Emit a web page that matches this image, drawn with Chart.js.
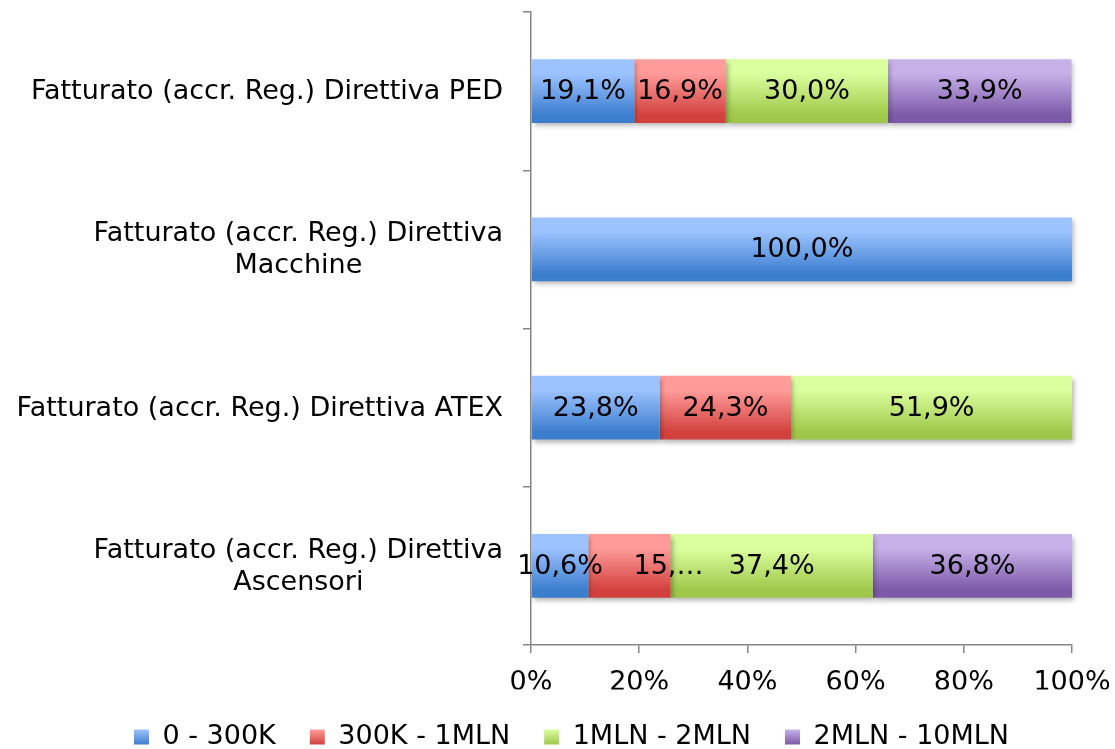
<!DOCTYPE html>
<html><head><meta charset="utf-8">
<script src="https://cdn.jsdelivr.net/npm/chart.js@4.4.0/dist/chart.umd.min.js"></script>
<style>html,body{margin:0;padding:0;background:#fff}#wrap{width:1115px;height:749px;position:relative}</style>
</head><body><div id="wrap"><canvas id="c" width="1115" height="749"></canvas></div>
<script>
// ---- data ----
const categories = [
  ['Fatturato (accr. Reg.) Direttiva PED'],
  ['Fatturato (accr. Reg.) Direttiva', 'Macchine'],
  ['Fatturato (accr. Reg.) Direttiva ATEX'],
  ['Fatturato (accr. Reg.) Direttiva', 'Ascensori']
];
const seriesNames = ['0 - 300K', '300K - 1MLN', '1MLN - 2MLN', '2MLN - 10MLN'];
const s0_300K     = [19.1, 100.0, 23.8, 10.6];
const s300K_1MLN  = [16.9, 0, 24.3, 15.2];
const s1MLN_2MLN  = [30.0, 0, 51.9, 37.4];
const s2MLN_10MLN = [33.9, 0, 0, 36.8];
const xTickLabels = ['0%', '20%', '40%', '60%', '80%', '100%'];
const truncatedLabels = [{series: 1, index: 3, text: '15,…'}];

// ---- style ----
const FONT = 'DejaVu Sans';
const FS = 27;
const BAR_PCT = 0.404;
const LEGEND_PAD = 34;
const palette = [
  {top: '#9DC3FF', bottom: '#3C7ECE', mid: '#6A9FE6'},
  {top: '#FF9C9A', bottom: '#D2413E', mid: '#E86D6A'},
  {top: '#DBFF9F', bottom: '#9FC84A', mid: '#BDE475'},
  {top: '#C7B1E9', bottom: '#7D59A8', mid: '#A285C9'}
];
const AXIS_COLOR = '#868686';

function barFill(p) {
  return (ctx) => {
    const chart = ctx.chart;
    const ys = chart.scales && chart.scales.y;
    if (ctx.type === 'data' && ys && ys.top !== undefined) {
      const yc = ys.getPixelForValue(ctx.dataIndex);
      const cat = (ys.bottom - ys.top) / chart.data.labels.length;
      const h = cat * BAR_PCT;
      const g = chart.ctx.createLinearGradient(0, yc - h / 2, 0, yc + h / 2);
      g.addColorStop(0, p.top); g.addColorStop(0.22, p.top); g.addColorStop(0.88, p.bottom); g.addColorStop(1, p.bottom);
      return g;
    }
    return p.mid;
  };
}

function legendFill(chart, i) {
  const p = palette[i];
  const lg = chart.legend;
  if (lg && lg.top !== undefined && !isNaN(lg.top)) {
    const cy = lg.top + LEGEND_PAD + FS / 2;
    const g = chart.ctx.createLinearGradient(0, cy - 7.5, 0, cy + 7.5);
    g.addColorStop(0, p.top); g.addColorStop(1, p.bottom);
    return g;
  }
  return p.mid;
}

const seriesValues = [s0_300K, s300K_1MLN, s1MLN_2MLN, s2MLN_10MLN];

const shadowPlugin = {
  id: 'shadow',
  beforeDatasetsDraw(chart) {
    const c = chart.ctx; c.save();
    c.shadowColor = 'rgba(0,0,0,0.30)'; c.shadowBlur = 5; c.shadowOffsetX = 2; c.shadowOffsetY = 3;
  },
  afterDatasetsDraw(chart) { chart.ctx.restore(); }
};

const dataLabelPlugin = {
  id: 'dataLabels',
  afterDatasetsDraw(chart) {
    const c = chart.ctx;
    c.save();
    c.font = FS + 'px "' + FONT + '"';
    c.fillStyle = '#000'; c.textBaseline = 'middle';
    chart.data.datasets.forEach((ds, di) => {
      const meta = chart.getDatasetMeta(di);
      meta.data.forEach((el, i) => {
        const v = ds.data[i];
        if (!v) return;
        const {x, base, y} = el.getProps(['x', 'base', 'y'], true);
        let t = v.toFixed(1).replace('.', ',') + '%';
        const tr = truncatedLabels.find(o => o.series === di && o.index === i);
        c.textAlign = 'center';
        if (tr) { t = tr.text; c.textAlign = 'left'; }
        c.fillText(t, (x + base) / 2 + (tr ? 4 : 0), y + 1);
      });
    });
    c.restore();
  }
};

const yLabelPlugin = {
  id: 'yLabels',
  afterDraw(chart) {
    const ys = chart.scales.y, c = chart.ctx;
    c.save();
    c.font = FS + 'px "' + FONT + '"';
    c.fillStyle = '#000'; c.textAlign = 'center'; c.textBaseline = 'middle';
    const right = chart.chartArea.left - 28;
    const lh = 32;
    categories.forEach((lines, i) => {
      const yc = ys.getPixelForValue(i);
      const w = Math.max(...lines.map(l => c.measureText(l).width));
      const cx = right - w / 2;
      lines.forEach((l, j) => c.fillText(l, cx, yc + 1 + (j - (lines.length - 1) / 2) * lh));
    });
    c.restore();
  }
};

Chart.defaults.font.family = FONT;
Chart.defaults.font.size = FS;
Chart.defaults.color = '#000';

const chart = new Chart(document.getElementById('c'), {
  type: 'bar',
  data: {
    labels: categories.map(l => l.join(' ')),
    datasets: seriesNames.map((name, k) => ({
      label: name,
      data: seriesValues[k],
      backgroundColor: barFill(palette[k]),
      borderWidth: 0,
      barPercentage: BAR_PCT,
      categoryPercentage: 1.0,
      clip: false
    }))
  },
  options: {
    indexAxis: 'y',
    responsive: false,
    devicePixelRatio: 1,
    animation: false,
    layout: {padding: {left: 28, right: 0, top: 12, bottom: -11.5}},
    scales: {
      x: {
        stacked: true, min: 0, max: 100,
        ticks: {stepSize: 20, callback: (v, i) => xTickLabels[i], color: '#000', font: {size: FS}, padding: 14, maxRotation: 0, autoSkip: false},
        grid: {drawOnChartArea: false, drawTicks: true, tickLength: 8, color: AXIS_COLOR, lineWidth: 1.5},
        border: {display: true, color: AXIS_COLOR, width: 1.5},
        afterFit: s => { s.paddingRight = 43; s.paddingLeft = 0; s.height = 44.5; }
      },
      y: {
        stacked: true,
        ticks: {display: false},
        grid: {offset: true, drawOnChartArea: false, drawTicks: true, tickLength: 8, color: AXIS_COLOR, lineWidth: 1.5},
        border: {display: true, color: AXIS_COLOR, width: 1.5},
        afterFit: s => { s.width = 503; }
      }
    },
    plugins: {
      legend: {
        position: 'bottom',
        labels: {
          boxWidth: 15, boxHeight: 15, padding: LEGEND_PAD, font: {size: FS}, color: '#000',
          generateLabels: (ch) => {
            const items = Chart.defaults.plugins.legend.labels.generateLabels(ch);
            items.forEach((it, i) => { it.fillStyle = legendFill(ch, i); it.lineWidth = 0; });
            return items;
          }
        }
      },
      tooltip: {enabled: false}
    }
  },
  plugins: [shadowPlugin, dataLabelPlugin, yLabelPlugin]
});
chart.update('none');
</script>
</body></html>
